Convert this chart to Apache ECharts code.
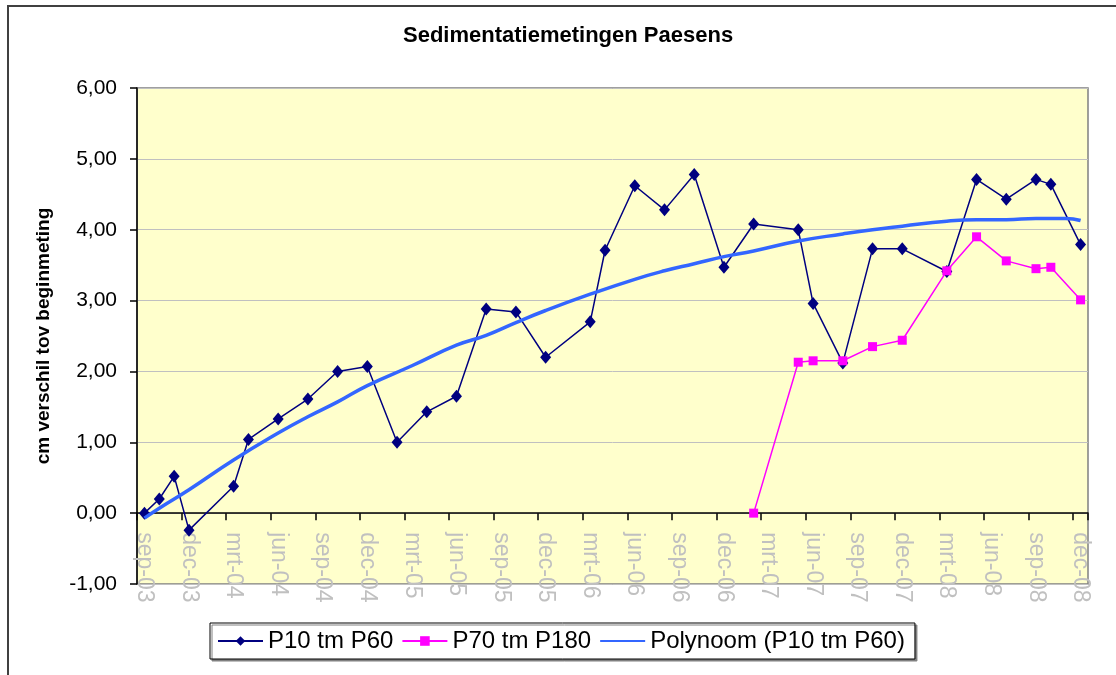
<!DOCTYPE html>
<html>
<head>
<meta charset="utf-8">
<script src="https://cdn.jsdelivr.net/npm/echarts@6/dist/echarts.min.js"></script>
<style>
  html, body { margin: 0; padding: 0; background: #fff; }
  #chart { width: 1116px; height: 675px; }
</style>
</head>
<body>
<div id="chart"></div>
<script>
// maanden op de x-as (sep-03 t/m dec-08)
const monthNames = ["jan", "feb", "mrt", "apr", "mei", "jun", "jul", "aug", "sep", "okt", "nov", "dec"];
const months = [];
for (let y = 2003; y <= 2008; y++) {
  for (let m = 0; m < 12; m++) {
    if (y === 2003 && m < 8) continue;
    months.push(monthNames[m] + "-" + String(y).slice(2));
  }
}

// P10 tm P60
const p10Dates = ["sep-03", "okt-03", "nov-03", "dec-03", "mrt-04", "apr-04", "jun-04", "aug-04", "okt-04", "dec-04",
  "feb-05", "apr-05", "jun-05", "aug-05", "okt-05", "dec-05", "mrt-06", "apr-06", "jun-06", "aug-06", "okt-06", "dec-06",
  "feb-07", "mei-07", "jun-07", "aug-07", "okt-07", "dec-07", "mrt-08", "mei-08", "jul-08", "sep-08", "okt-08", "dec-08"];
const p10Values = [0.00, 0.20, 0.52, -0.24, 0.38, 1.04, 1.33, 1.61, 2.00, 2.07,
  1.00, 1.43, 1.65, 2.88, 2.84, 2.20, 2.70, 3.71, 4.62, 4.28, 4.78, 3.47,
  4.08, 4.00, 2.96, 2.12, 3.73, 3.73, 3.41, 4.71, 4.43, 4.71, 4.64, 3.79];

// P70 tm P180
const p70Dates = ["feb-07", "mei-07", "jun-07", "aug-07", "okt-07", "dec-07", "mrt-08", "mei-08", "jul-08", "sep-08", "okt-08", "dec-08"];
const p70Values = [0.00, 2.13, 2.15, 2.15, 2.35, 2.44, 3.42, 3.90, 3.56, 3.45, 3.47, 3.01];

// Polynoom (P10 tm P60)
const trendDates = ["sep-03", "okt-03", "dec-03", "mrt-04", "jun-04", "aug-04", "okt-04", "dec-04", "mrt-05", "jun-05",
  "aug-05", "okt-05", "dec-05", "mrt-06", "jun-06", "aug-06", "okt-06", "dec-06", "feb-07", "mei-07", "aug-07",
  "okt-07", "dec-07", "mrt-08", "mei-08", "jul-08", "sep-08", "nov-08", "dec-08"];
const trendValues = [-0.07, 0.07, 0.33, 0.75, 1.13, 1.36, 1.57, 1.80, 2.08, 2.37,
  2.51, 2.69, 2.86, 3.09, 3.30, 3.42, 3.52, 3.62, 3.70, 3.84, 3.94,
  4.00, 4.05, 4.12, 4.14, 4.14, 4.16, 4.16, 4.13];

const yTicks = [-1, 0, 1, 2, 3, 4, 5, 6];

const toSeries = (dates, values) => {
  const out = months.map(() => null);
  dates.forEach((d, i) => (out[months.indexOf(d)] = values[i]));
  return out;
};

const font = "Liberation Sans, Arial, sans-serif";
const gridTop = 88;
const gridBottom = 91;
const plotHeight = 675 - gridTop - gridBottom;
// x-as ligt op 0,00: verschuiving vanaf de onderkant van het plotvlak
const zeroOffset = (plotHeight * (0 - yTicks[0])) / (yTicks[yTicks.length - 1] - yTicks[0]);

const myChart = echarts.init(document.getElementById("chart"));
const option = {
  animation: false,
  backgroundColor: "#ffffff",
  graphic: [
    {
      type: "rect",
      shape: { x: 8, y: 6, width: 1200, height: 800 },
      style: { fill: "none", stroke: "#404040", lineWidth: 2 },
      silent: true,
      z: -1
    }
  ],
  title: {
    text: "Sedimentatiemetingen Paesens",
    left: 403,
    top: 25,
    padding: 0,
    textStyle: { fontFamily: font, fontSize: 22, fontWeight: "bold", color: "#000" }
  },
  legend: {
    left: 210,
    top: 623,
    padding: [6, 10, 6, 7],
    itemWidth: 45,
    itemHeight: 12,
    itemGap: 8,
    borderColor: "#000",
    borderWidth: 1,
    borderRadius: 0,
    backgroundColor: "#fff",
    shadowColor: "#808080",
    shadowOffsetX: 2,
    shadowOffsetY: 2,
    shadowBlur: 0,
    data: ["P10 tm P60", "P70 tm P180", { name: "Polynoom (P10 tm P60)", itemStyle: { opacity: 0 } }],
    textStyle: { fontFamily: font, fontSize: 24, color: "#000" }
  },
  grid: {
    left: 137,
    right: 28,
    top: gridTop,
    bottom: gridBottom,
    show: true,
    backgroundColor: "#ffffcc",
    borderColor: "#808080",
    borderWidth: 1.5
  },
  xAxis: {
    type: "category",
    data: months,
    boundaryGap: true,
    offset: -zeroOffset,
    axisLine: { onZero: false, lineStyle: { color: "#000", width: 1.5 } },
    axisTick: { show: true, interval: 2, length: 7, lineStyle: { color: "#000", width: 1.5 } },
    axisLabel: {
      interval: 2,
      rotate: -90,
      margin: 19,
      color: "#c0c0c0",
      fontFamily: font,
      fontSize: 23
    },
    splitLine: { show: false }
  },
  yAxis: {
    type: "value",
    min: yTicks[0],
    max: yTicks[yTicks.length - 1],
    interval: 1,
    name: "cm verschil tov beginmeting",
    nameLocation: "middle",
    nameGap: 84,
    nameRotate: 90,
    nameTextStyle: { fontFamily: font, fontSize: 19, fontWeight: "bold", color: "#000" },
    axisLine: { show: true, lineStyle: { color: "#000", width: 1.5 } },
    axisTick: { show: true, inside: false, length: 7, lineStyle: { color: "#000", width: 1.5 } },
    axisLabel: {
      margin: 20,
      color: "#000",
      fontFamily: font,
      fontSize: 21,
      formatter: v => v.toFixed(2).replace(".", ",")
    },
    splitLine: { show: true, lineStyle: { color: "#c0c0c0", width: 1 } }
  },
  series: [
    {
      name: "P10 tm P60",
      type: "line",
      data: toSeries(p10Dates, p10Values),
      connectNulls: true,
      showAllSymbol: true,
      symbol: "diamond",
      symbolSize: [11, 13],
      lineStyle: { color: "#000080", width: 1.5 },
      itemStyle: { color: "#000080" },
      z: 2
    },
    {
      name: "P70 tm P180",
      type: "line",
      data: toSeries(p70Dates, p70Values),
      connectNulls: true,
      showAllSymbol: true,
      symbol: "rect",
      symbolSize: 9,
      lineStyle: { color: "#ff00ff", width: 1.5 },
      itemStyle: { color: "#ff00ff" },
      z: 3
    },
    {
      name: "Polynoom (P10 tm P60)",
      type: "line",
      data: toSeries(trendDates, trendValues),
      connectNulls: true,
      smooth: true,
      symbol: "none",
      lineStyle: { color: "#3366ff", width: 3.5 },
      itemStyle: { color: "#3366ff" },
      z: 4
    }
  ]
};
myChart.setOption(option);
</script>
</body>
</html>
